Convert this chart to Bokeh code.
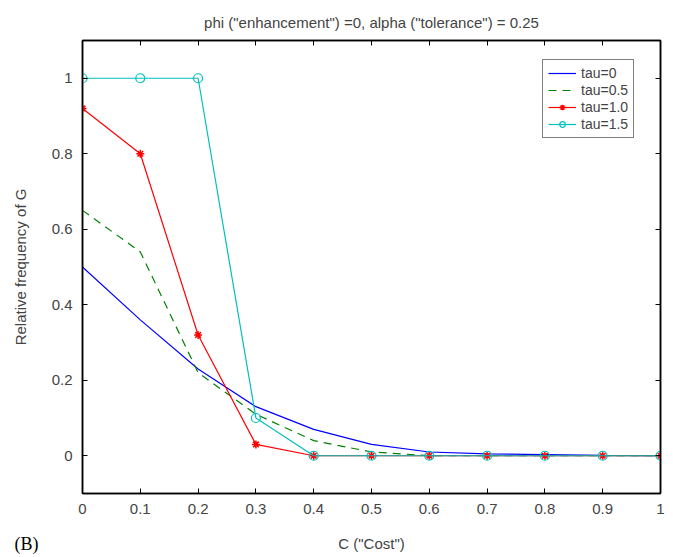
from bokeh.plotting import figure
from bokeh.models import LinearAxis, Range1d, FixedTicker, CustomJSTickFormatter, Title, Legend
from bokeh.embed import file_html
from bokeh.resources import INLINE

cost = [0.0, 0.1, 0.2, 0.3, 0.4, 0.5, 0.6, 0.7, 0.8, 0.9, 1.0]
tau0 = [0.50, 0.36, 0.23, 0.13, 0.07, 0.03, 0.01, 0.005, 0.003, 0.001, 0.0]
tau05 = [0.65, 0.54, 0.22, 0.11, 0.04, 0.01, 0.0, 0.0, 0.0, 0.0, 0.0]
tau10 = [0.92, 0.80, 0.32, 0.03, 0.0, 0.0, 0.0, 0.0, 0.0, 0.0, 0.0]
tau15 = [1.0, 1.0, 1.0, 0.10, 0.0, 0.0, 0.0, 0.0, 0.0, 0.0, 0.0]
x_ticks = [0, 0.1, 0.2, 0.3, 0.4, 0.5, 0.6, 0.7, 0.8, 0.9, 1.0]
y_ticks = [0, 0.2, 0.4, 0.6, 0.8, 1.0]

FONT = "Liberation Sans"

p = figure(output_backend="svg", toolbar_location=None,
           frame_width=578, frame_height=453,
           x_range=Range1d(0, 1), y_range=Range1d(-0.1, 1.1),
           min_border_left=82, min_border_right=5, min_border_top=40, min_border_bottom=64,
           title='phi ("enhancement") =0, alpha ("tolerance") = 0.25')
p.title.align = "center"
p.title.text_font = FONT
p.title.text_font_style = "normal"
p.title.text_font_size = "15px"
p.title.standoff = 20
p.grid.visible = False
p.outline_line_color = "black"
p.outline_line_width = 1.5
p.background_fill_color = "white"
p.border_fill_color = "white"

fmt = CustomJSTickFormatter(code="return String(Math.round(tick*10)/10);")
for ax in (p.xaxis[0], p.yaxis[0]):
    ax.major_tick_in = 5
    ax.major_tick_out = 0
    ax.minor_tick_line_color = None
    ax.axis_line_width = 1.5
    ax.major_label_text_font = FONT
    ax.major_label_text_font_size = "15px"
    ax.axis_label_text_font = FONT
    ax.axis_label_text_font_size = "15px"
    ax.axis_label_text_font_style = "normal"
    ax.formatter = fmt
    ax.axis_label_standoff = 20
p.xaxis[0].ticker = FixedTicker(ticks=x_ticks)
p.yaxis[0].ticker = FixedTicker(ticks=y_ticks)
p.xaxis[0].axis_label = 'C ("Cost")'
p.yaxis[0].axis_label = "Relative frequency of G"
p.xaxis[0].major_label_standoff = 10
p.yaxis[0].major_label_standoff = 10
p.xaxis[0].axis_label_standoff = 18

blank = CustomJSTickFormatter(code="return '';")
top = LinearAxis(ticker=FixedTicker(ticks=x_ticks), formatter=blank,
                 major_tick_in=5, major_tick_out=0, minor_tick_line_color=None,
                 axis_line_width=1.5, major_label_standoff=0)
right = LinearAxis(ticker=FixedTicker(ticks=y_ticks), formatter=blank,
                   major_tick_in=5, major_tick_out=0, minor_tick_line_color=None,
                   axis_line_width=1.5, major_label_standoff=0)
p.add_layout(top, "above")
p.add_layout(right, "right")

r0 = p.line(cost, tau0, line_color="#0000ff", line_width=1.2)
r1 = p.line(cost, tau05, line_color="#008000", line_width=1.2, line_dash="8 6")
r2l = p.line(cost, tau10, line_color="#ff0000", line_width=1.2)
r2m = p.scatter(cost, tau10, marker="asterisk", size=8, line_color="#ff0000", line_width=1.5)
r3l = p.line(cost, tau15, line_color="#00bfbf", line_width=1.2)
r3m = p.scatter(cost, tau15, marker="circle", size=9, line_color="#00bfbf", fill_color=None, line_width=1.2)

legend = Legend(items=[("tau=0", [r0]), ("tau=0.5", [r1]),
                       ("tau=1.0", [r2l, r2m]), ("tau=1.5", [r3l, r3m])],
                location=(460, 355))
legend.label_text_font = FONT
legend.label_text_font_size = "14px"
legend.glyph_width = 28
legend.glyph_height = 14
legend.label_height = 14
legend.spacing = 1
legend.padding = 5
legend.margin = 0
legend.border_line_color = "black"
legend.border_line_width = 1.2
legend.background_fill_alpha = 1
p.add_layout(legend, "center")

panel_b = Title(text="(B)", align="left", offset=-68, vertical_align="top", standoff=-42,
                text_font="Liberation Serif", text_font_size="18px", text_font_style="normal",
                text_color="black")
p.add_layout(panel_b, "below")

open("out.html", "w").write(file_html(p, INLINE))
